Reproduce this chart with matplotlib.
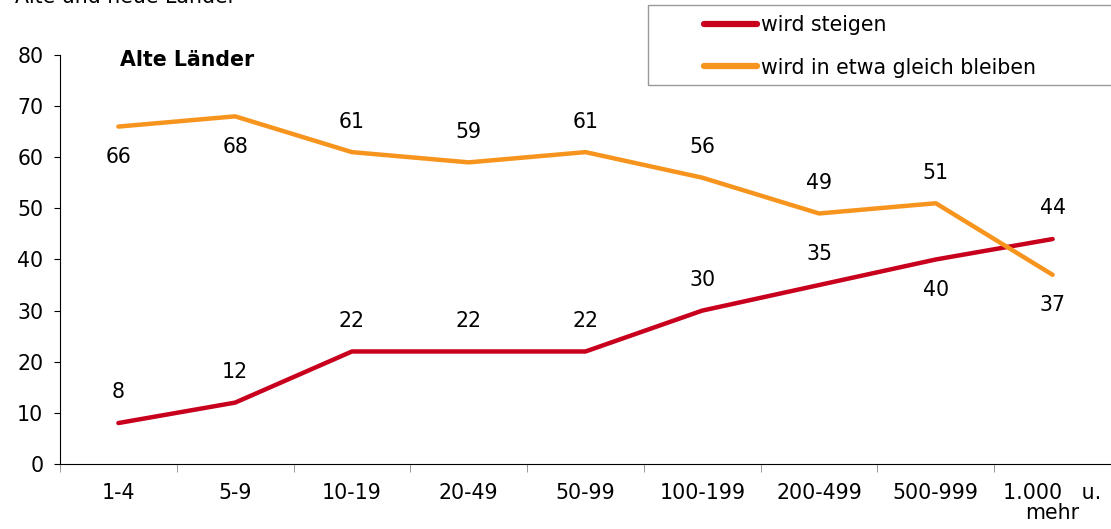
import matplotlib
matplotlib.use("Agg")
import matplotlib.pyplot as plt
from matplotlib.patches import Rectangle
import numpy as np

# ---------------------------------------------------------------------------
# Data
# ---------------------------------------------------------------------------
categories = ["1-4", "5-9", "10-19", "20-49", "50-99", "100-199",
              "200-499", "500-999", "1.000   u.\nmehr"]
steigen = [8, 12, 22, 22, 22, 30, 35, 40, 44]
gleich = [66, 68, 61, 59, 61, 56, 49, 51, 37]

# label placement: +1 above, -1 below
steigen_pos = [1, 1, 1, 1, 1, 1, 1, -1, 1]
gleich_pos = [-1, -1, 1, 1, 1, 1, 1, 1, -1]

RED = "#C8001E"
ORANGE = "#F7941D"
FS = 14.8

plt.rcParams["font.family"] = ["DejaVu Sans"]

fig = plt.figure(figsize=(11.11, 5.29), dpi=100)
W, H = 1111.0, 529.0
ax = fig.add_axes([60 / W, 0.123, 1 - 60 / W, 0.773])

x = np.arange(len(categories))
ax.plot(x, steigen, color=RED, lw=3.2, solid_capstyle="round", label="wird steigen")
ax.plot(x, gleich, color=ORANGE, lw=3.2, solid_capstyle="round",
        label="wird in etwa gleich bleiben")

for xi, v, p in zip(x, steigen, steigen_pos):
    ax.annotate(str(v), (xi, v), xytext=(0, 22 * p), textcoords="offset points",
                ha="center", va="center", fontsize=FS)
for xi, v, p in zip(x, gleich, gleich_pos):
    ax.annotate(str(v), (xi, v), xytext=(0, 22 * p), textcoords="offset points",
                ha="center", va="center", fontsize=FS)

ax.set_xlim(-0.5, len(categories) - 0.5)
ax.set_ylim(0, 80)
ax.set_yticks(np.arange(0, 81, 10))
ax.tick_params(axis="y", labelsize=FS, length=4, pad=8)

ax.set_xticks(x)
ax.set_xticklabels(categories, fontsize=FS, linespacing=1.0)
ax.tick_params(axis="x", which="major", length=0, pad=14)
ax.set_xticks(np.arange(-0.5, len(categories), 1), minor=True)
ax.tick_params(axis="x", which="minor", length=6, color="#888888")

for s in ["top", "right"]:
    ax.spines[s].set_visible(False)

ax.text(120 / W, (H - 60) / H, "Alte Länder", transform=fig.transFigure,
        fontsize=FS, fontweight="bold", ha="left", va="center")

fig.text(15 / W, (H - 3) / H, "Alte und neue Länder", fontsize=FS,
         ha="left", va="baseline")

# legend frame reaches the right edge of the figure
fig.patches.append(Rectangle((648 / W, (H - 85) / H), 1 - 648 / W + 0.01, 80 / H,
                             transform=fig.transFigure, fill=False,
                             edgecolor="#999999", lw=1.0))
leg = fig.legend(loc="upper left", bbox_to_anchor=(704 / W, (H - 15) / H),
                 bbox_transform=fig.transFigure, fontsize=FS, frameon=False,
                 handlelength=2.6, handletextpad=0.15, borderpad=0.0,
                 labelspacing=1.1, borderaxespad=0)
for h in leg.get_lines():
    h.set_linewidth(4.5)
    h.set_solid_capstyle("round")

fig.savefig("out.png", dpi=100)
